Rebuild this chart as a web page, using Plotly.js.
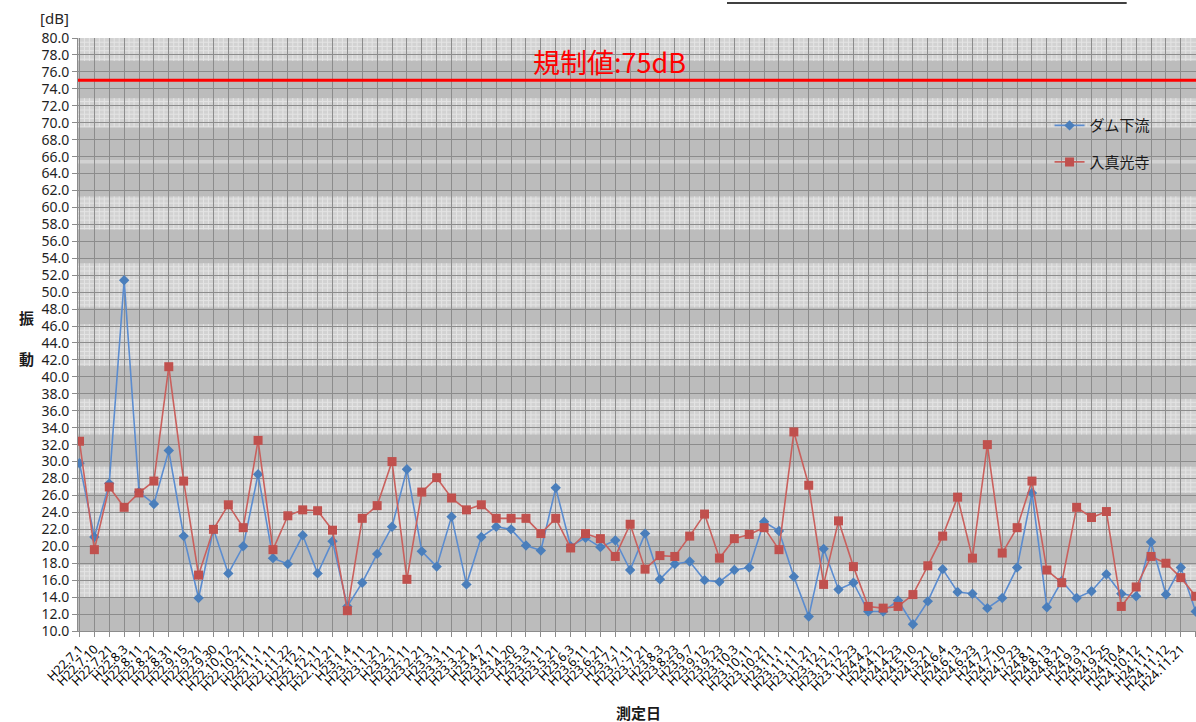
<!DOCTYPE html>
<html>
<head>
<meta charset="utf-8">
<script src="https://cdn.plot.ly/plotly-3.0.1.min.js"></script>
<style>
html,body{margin:0;padding:0;background:#fff;}
#chart{width:1196px;height:722px;}
</style>
</head>
<body>
<div id="chart"></div>
<script>
// ---- data ----
var dates = [
"H22.7.1","H22.7.10","H22.7.21","H22.8.3","H22.8.11","H22.8.21","H22.8.31","H22.9.15","H22.9.21","H22.9.30",
"H22.10.12","H22.10.21","H22.11.1","H22.11.11","H22.11.22","H22.12.1","H22.12.11","H22.12.21","H23.1.4","H23.1.11",
"H23.1.21","H23.2.1","H23.2.11","H23.2.21","H23.3.1","H23.3.11","H23.3.21","H23.4.7","H23.4.11","H23.4.20",
"H23.5.3","H23.5.11","H23.5.21","H23.6.3","H23.6.11","H23.6.21","H23.7.1","H23.7.11","H23.7.21","H23.8.3",
"H23.8.23","H23.9.7","H23.9.12","H23.9.23","H23.10.3","H23.10.11","H23.10.21","H23.11.1","H23.11.11","H23.11.21",
"H23.12.1","H23.12.12","H23.12.23","H24.4.2","H24.4.12","H24.4.23","H24.5.10","H24.5.21","H24.6.4","H24.6.13",
"H24.6.23","H24.7.2","H24.7.10","H24.7.23","H24.8.1","H24.8.13","H24.8.21","H24.9.3","H24.9.12","H24.9.25",
"H24.10.4","H24.10.12","H24.11.1","H24.11.12","H24.11.21","H24.12.3"
];
var damDownstream = [
29.8,21.1,27.4,51.4,26.4,25.0,31.3,21.2,13.9,22.0,
16.8,20.0,28.5,18.6,17.9,21.3,16.8,20.6,12.9,15.7,
19.1,22.3,29.1,19.4,17.6,23.5,15.5,21.1,22.3,22.0,
20.1,19.5,26.9,20.0,21.0,19.9,20.7,17.2,21.5,16.1,
17.9,18.2,16.0,15.8,17.2,17.5,22.9,21.8,16.4,11.7,
19.7,14.9,15.7,12.3,12.3,13.6,10.8,13.5,17.3,14.6,
14.4,12.7,13.9,17.5,26.3,12.8,15.9,13.9,14.7,16.7,
14.4,14.1,20.5,14.3,17.5,12.3
];
var irimakoji = [
32.4,19.6,27.0,24.6,26.3,27.7,41.2,27.7,16.6,22.0,
24.9,22.2,32.5,19.6,23.6,24.3,24.2,21.9,12.4,23.3,
24.8,30.0,16.1,26.4,28.1,25.7,24.3,24.9,23.3,23.3,
23.3,21.5,23.3,19.8,21.5,20.9,18.8,22.6,17.3,18.9,
18.8,21.2,23.8,18.6,20.9,21.4,22.2,19.6,33.5,27.2,
15.5,23.0,17.6,12.9,12.7,12.9,14.3,17.7,21.2,25.8,
18.6,32.0,19.2,22.2,27.7,17.2,15.7,24.6,23.4,24.1,
12.9,15.2,18.8,18.0,16.3,14.1
];
var seriesNames = ["ダム下流","入真光寺"];
var limitValue = 75;
var limitLabel = "規制値:75dB";
var yTitleChars = ["振","動"];
var xTitle = "測定日";
var unitLabel = "[dB]";

// ---- decoration (background bands) ----
var lightBands = [[77.3,80],[69.5,72.9],[65.2,65.6],[57.4,61.3],[48.2,53.4],[41.3,46.2],[33.2,37.4],[26.3,29.4],[21.2,25.0],[14.0,17.8]];

var idx = dates.map(function(_, i){ return i; });
var xr = [-0.1, dates.length - 1 + 0.02];

var shapes = [];
lightBands.forEach(function(b){
  shapes.push({type:'rect', xref:'paper', yref:'y', x0:0, x1:1, y0:b[0], y1:b[1],
    fillcolor:'#d2d2d2', line:{width:0}, layer:'below'});
  if (b[1]-b[0] > 1) {
    var p = '';
    for (var i = -1; i < dates.length; i++) {
      [1/3, 2/3].forEach(function(f){
        var xv = i + f;
        if (xv > xr[0] && xv < xr[1]) p += 'M' + xv.toFixed(3) + ',' + b[0] + 'L' + xv.toFixed(3) + ',' + b[1];
      });
    }
    for (var yv = Math.ceil(b[0]*2)/2; yv <= b[1]; yv += 0.5) {
      if (Math.abs(yv/2 - Math.round(yv/2)) > 1e-6) p += 'M' + xr[0] + ',' + yv + 'L' + xr[1] + ',' + yv;
    }
    shapes.push({type:'path', xref:'x', yref:'y', path:p, line:{color:'#e4e4e4', width:1}, layer:'below'});
  }
});
// regulation line
shapes.push({type:'line', xref:'paper', yref:'y', x0:0, x1:1, y0:limitValue, y1:limitValue,
  line:{color:'#ff0000', width:3}, layer:'above'});
// top rule line
shapes.push({type:'line', xref:'paper', yref:'paper', x0:0.5805, x1:0.938, y0:1.059, y1:1.059,
  line:{color:'#000000', width:1.5}});

var fontLat = 'Noto Sans, Noto Sans CJK JP, sans-serif';
var fontJP = 'Noto Sans CJK JP, sans-serif';

var traces = [
  {x: idx, y: damDownstream, name: seriesNames[0], type:'scatter', mode:'lines+markers',
   legendgroup:'a',
   line:{color:'#5b8ccf', width:1.6},
   marker:{symbol:'diamond', size:8, color:'#4a7ebb', line:{width:0}}},
  {x: idx, y: irimakoji, name: seriesNames[1], type:'scatter', mode:'lines+markers',
   legendgroup:'b',
   line:{color:'#c9605d', width:1.6},
   marker:{symbol:'square', size:9, color:'#c0504d', line:{width:0}}}
];

var layout = {
  width:1196, height:722,
  margin:{l:78, r:0, t:38, b:91},
  paper_bgcolor:'#ffffff',
  plot_bgcolor:'#bcbcbc',
  showlegend:true,
  legend:{x:0.869, y:0.880, xanchor:'left', yanchor:'top', bgcolor:'rgba(0,0,0,0)',
    traceorder:'grouped', tracegroupgap:14,
    font:{family:fontJP, size:15, color:'#1a1a1a'}},
  xaxis:{
    range: xr, tickmode:'array', tickvals: idx, ticktext: dates, tickangle:-45,
    tickfont:{family:fontLat, size:12.5, color:'#000000'},
    showgrid:true, gridcolor:'#8c8c8c', gridwidth:1,
    ticks:'outside', ticklen:5, tickcolor:'#8c8c8c',
    showline:true, linecolor:'#8c8c8c', zeroline:false, fixedrange:true
  },
  yaxis:{
    range:[10,80], dtick:2, tick0:0, tickformat:'.1f',
    tickfont:{family:fontLat, size:14, color:'#1f1f1f'},
    showgrid:true, gridcolor:'#8c8c8c', gridwidth:1,
    ticks:'outside', ticklen:5, tickcolor:'#8c8c8c',
    showline:true, linecolor:'#8c8c8c', zeroline:false, fixedrange:true
  },
  shapes: shapes,
  annotations:[
    {xref:'paper', yref:'y', x:0.475, y:limitValue, yanchor:'bottom', xanchor:'center', yshift:-3,
     text:limitLabel, showarrow:false, font:{family:fontJP, size:27, color:'#ff0000'}},
    {xref:'paper', yref:'paper', x:(54-78)/1118, y:1+(38-18)/593, xanchor:'center', yanchor:'middle',
     text:unitLabel, showarrow:false, font:{family:fontLat, size:15, color:'#262626'}},
    {xref:'paper', yref:'paper', x:(26-78)/1118, y:1-(318-38)/593, xanchor:'center', yanchor:'middle',
     text:'<b>'+yTitleChars[0]+'</b>', showarrow:false, font:{family:fontJP, size:15, color:'#1a1a1a'}},
    {xref:'paper', yref:'paper', x:(26-78)/1118, y:1-(358-38)/593, xanchor:'center', yanchor:'middle',
     text:'<b>'+yTitleChars[1]+'</b>', showarrow:false, font:{family:fontJP, size:15, color:'#1a1a1a'}},
    {xref:'paper', yref:'paper', x:(638-78)/1118, y:-(712-631)/593, xanchor:'center', yanchor:'middle',
     text:'<b>'+xTitle+'</b>', showarrow:false, font:{family:fontJP, size:15, color:'#1a1a1a'}}
  ]
};

Plotly.newPlot('chart', traces, layout, {displayModeBar:false, staticPlot:true});
</script>
</body>
</html>
